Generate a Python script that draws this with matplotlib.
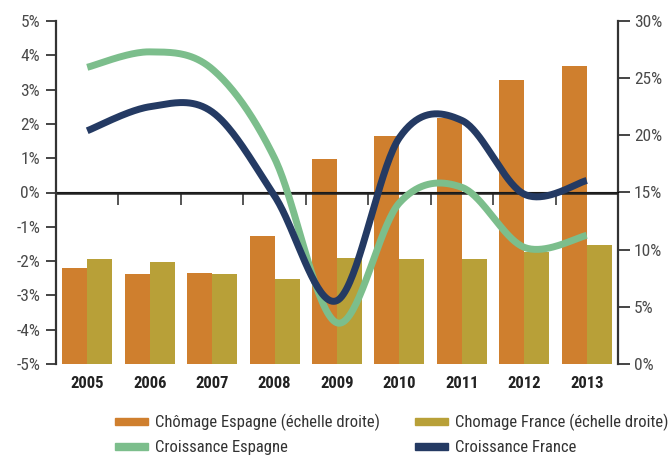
import matplotlib
matplotlib.use('Agg')
import matplotlib.pyplot as plt
from matplotlib.patches import Patch
import numpy as np

plt.rcParams['font.family'] = ['Roboto Condensed', 'Archivo Narrow', 'DejaVu Sans']

years = ['2005', '2006', '2007', '2008', '2009', '2010', '2011', '2012', '2013']
chomage_espagne = [8.4, 7.9, 8.0, 11.2, 17.9, 19.9, 21.5, 24.8, 26.1]
chomage_france = [9.15, 8.9, 7.85, 7.4, 9.3, 9.15, 9.15, 9.8, 10.4]
croissance_espagne = [3.65, 4.1, 3.6, 1.0, -3.8, -0.3, 0.15, -1.6, -1.25]
croissance_france = [1.8, 2.5, 2.35, -0.1, -3.15, 1.6, 2.1, -0.05, 0.35]

c_esp = '#CF7F2E'
c_fra = '#B8A038'
c_gesp = '#7CBE8C'
c_gfra = '#243A63'


def smooth(y, n=40):
    # courbe lissée type Excel (Catmull-Rom / Bezier)
    y = np.asarray(y, float)
    x = np.arange(len(y), dtype=float)
    xs, ys = [], []
    for i in range(len(y) - 1):
        p0 = (x[i - 1], y[i - 1]) if i > 0 else (x[i], y[i])
        p1 = (x[i], y[i])
        p2 = (x[i + 1], y[i + 1])
        p3 = (x[i + 2], y[i + 2]) if i + 2 < len(y) else (x[i + 1], y[i + 1])
        c1 = (p1[0] + (p2[0] - p0[0]) / 6, p1[1] + (p2[1] - p0[1]) / 6)
        c2 = (p2[0] - (p3[0] - p1[0]) / 6, p2[1] - (p3[1] - p1[1]) / 6)
        t = np.linspace(0, 1, n)
        for k in range(2):
            pts = [p1[k], c1[k], c2[k], p2[k]]
            v = ((1 - t) ** 3 * pts[0] + 3 * (1 - t) ** 2 * t * pts[1]
                 + 3 * (1 - t) * t ** 2 * pts[2] + t ** 3 * pts[3])
            (xs if k == 0 else ys).append(v)
    return np.concatenate(xs), np.concatenate(ys)


fig = plt.figure(figsize=(6.68, 4.59), dpi=100)
ax = fig.add_axes([56 / 668, 1 - 364 / 459, 562 / 668, 343 / 459])
axr = ax.twinx()
ax.set_zorder(axr.get_zorder() + 1)
ax.patch.set_visible(False)

x = np.arange(len(years))
w = 0.4
axr.bar(x - w / 2, chomage_espagne, w, color=c_esp)
axr.bar(x + w / 2, chomage_france, w, color=c_fra)

ax.axhline(0, color='#222222', lw=1.8, zorder=1)
sx, sy = smooth(croissance_espagne)
ax.plot(sx, sy, color=c_gesp, lw=5, solid_capstyle='butt', zorder=3)
sx, sy = smooth(croissance_france)
ax.plot(sx, sy, color=c_gfra, lw=5, solid_capstyle='butt', zorder=4)

ax.set_xlim(-0.5, len(years) - 0.5)
ax.set_ylim(-5, 5)
axr.set_ylim(0, 30)

ax.set_yticks(np.arange(-5, 6, 1))
ax.set_yticklabels([f'{v}%' for v in range(-5, 6)])
axr.set_yticks(np.arange(0, 31, 5))
axr.set_yticklabels([f'{v}%' for v in range(0, 31, 5)])

for a in (ax, axr):
    a.spines['top'].set_visible(False)
    a.spines['bottom'].set_visible(False)
ax.spines['right'].set_visible(False)
axr.spines['left'].set_visible(False)
ax.spines['left'].set_color('#333333')
ax.spines['left'].set_linewidth(1.6)
axr.spines['right'].set_color('#333333')
axr.spines['right'].set_linewidth(1.6)

ax.tick_params(axis='y', length=7.5, width=1.4, color='#444444', labelsize=12.5,
               labelcolor='#4a4a4a', pad=4)
axr.tick_params(axis='y', length=8.5, width=1.4, color='#444444', labelsize=12.5,
                labelcolor='#4a4a4a', pad=3)

ax.set_xticks(x)
ax.set_xticklabels(years, fontsize=12, fontweight='bold', color='#222222')
ax.tick_params(axis='x', length=0, pad=9)

# petites graduations entre les années, sous la ligne du zéro
sec = ax.secondary_xaxis(0.5)
sec.set_xticks(x[:-1] + 0.5)
sec.set_xticklabels([])
sec.spines['bottom'].set_visible(False)
sec.tick_params(axis='x', length=9.5, width=1.4, color='#555555', direction='in')

handles = [Patch(color=c_esp), Patch(color=c_gesp), Patch(color=c_fra), Patch(color=c_gfra)]
labels = ['Chômage Espagne (échelle droite)', 'Croissance Espagne',
          'Chomage France (échelle droite)', 'Croissance France']
fig.legend(handles, labels, ncol=2, loc='upper left',
           bbox_to_anchor=(115 / 668, 1 - 414 / 459), frameon=False,
           fontsize=12, labelcolor='#333333', handlelength=2.0, handleheight=0.3,
           handletextpad=0.4, columnspacing=2.1, borderpad=0, borderaxespad=0,
           labelspacing=0.55)

fig.savefig('out.png', dpi=100)
